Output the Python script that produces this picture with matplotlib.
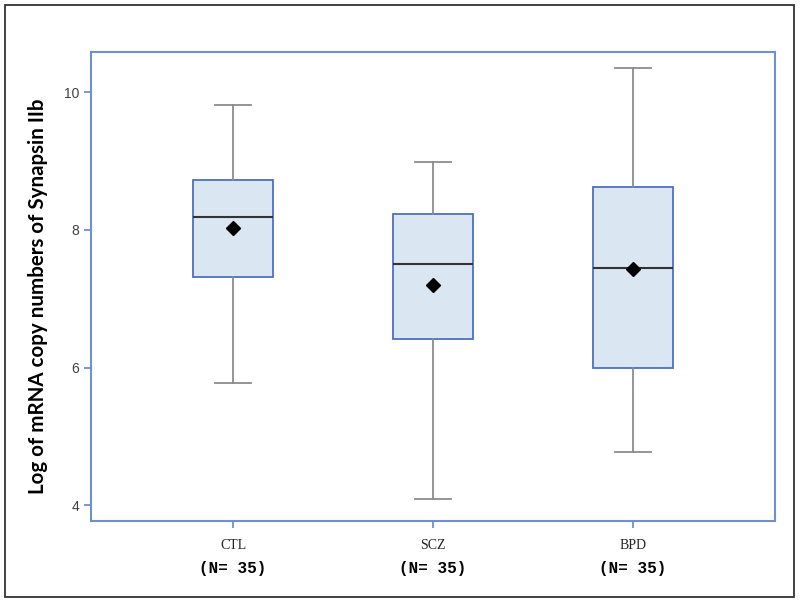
# ================================================================
# 0. Section: IMPORTS
# ================================================================
import matplotlib
matplotlib.use("Agg")
from matplotlib import pyplot as plt
from matplotlib.patches import Rectangle


# ================================================================
# 1. Section: INPUTS
# ================================================================
GROUPS: list[str] = ["CTL", "SCZ", "BPD"]
N_PER_GROUP: list[int] = [35, 35, 35]
WHISKER_LOW: list[float] = [5.78, 4.09, 4.77]
Q1: list[float] = [7.32, 6.42, 6.00]
MEDIAN: list[float] = [8.18, 7.51, 7.44]
Q3: list[float] = [8.73, 8.23, 8.62]
WHISKER_HIGH: list[float] = [9.81, 8.99, 10.35]
MEAN: list[float] = [8.03, 7.20, 7.43]
Y_TICKS: list[int] = [4, 6, 8, 10]
Y_LABEL: str = "Log of mRNA copy numbers of Synapsin IIb"

SPINE_BLUE = "#6f8fd3"
BOX_EDGE = "#4d70c2"
BOX_FILL = "#dbe6f3"
WHISKER_GREY = "#8c8c8c"


# ================================================================
# 2. Section: FUNCTIONS
# ================================================================
def build_stats() -> list[dict]:
    stats = []
    for i, g in enumerate(GROUPS):
        stats.append({
            "label": g,
            "whislo": WHISKER_LOW[i],
            "q1": Q1[i],
            "med": MEDIAN[i],
            "q3": Q3[i],
            "whishi": WHISKER_HIGH[i],
            "mean": MEAN[i],
            "fliers": [],
        })
    return stats


def draw_chart(path: str):
    fig = plt.figure(figsize=(8, 6.04), dpi=100)
    ax = fig.add_axes([0.1138, 0.1374, 0.855, 0.776])

    positions = list(range(1, len(GROUPS) + 1))
    ax.bxp(
        build_stats(),
        positions=positions,
        widths=0.4,
        capwidths=0.18,
        patch_artist=True,
        showmeans=True,
        showfliers=False,
        boxprops=dict(facecolor=BOX_FILL, edgecolor=BOX_EDGE, linewidth=1.3),
        whiskerprops=dict(color=WHISKER_GREY, linewidth=1.3),
        capprops=dict(color=WHISKER_GREY, linewidth=1.3),
        medianprops=dict(color="#333333", linewidth=1.5),
        meanprops=dict(marker="D", markerfacecolor="black",
                       markeredgecolor="black", markersize=7),
    )

    ax.set_xlim(0.29, 3.71)
    ax.set_ylim(3.77, 10.58)
    ax.set_yticks(Y_TICKS)
    ax.set_yticklabels([str(t) for t in Y_TICKS], fontsize=10,
                       color="#404040", family="Liberation Sans")
    ax.set_xticks(positions)
    ax.set_xticklabels(GROUPS, fontsize=10, color="#222222",
                       family="Liberation Serif")
    ax.tick_params(axis="both", direction="out", color=SPINE_BLUE,
                   length=5, width=1.3)
    ax.tick_params(axis="x", pad=8)
    for spine in ax.spines.values():
        spine.set_color(SPINE_BLUE)
        spine.set_linewidth(1.5)

    # group sizes under the category labels
    for pos, n in zip(positions, N_PER_GROUP):
        ax.annotate(f"(N= {n})", xy=(pos, 0), xycoords=("data", "axes fraction"),
                    xytext=(0, -34.5), textcoords="offset points",
                    ha="center", va="center", fontsize=11.5,
                    fontweight="bold", family="Liberation Mono")

    fig.text(0.047, 0.51, Y_LABEL, rotation=90, ha="center", va="center",
             fontsize=14.8, fontweight="bold", family="Lato")

    # outer frame of the picture
    fig.patches.append(Rectangle((0.00625, 0.0116), 0.986, 0.9806,
                                 transform=fig.transFigure, fill=False,
                                 edgecolor="#333333", linewidth=1.3))
    fig.savefig(path, dpi=100)


# ================================================================
# 3. Section: MAIN
# ================================================================
if __name__ == '__main__':
    draw_chart("out.png")
